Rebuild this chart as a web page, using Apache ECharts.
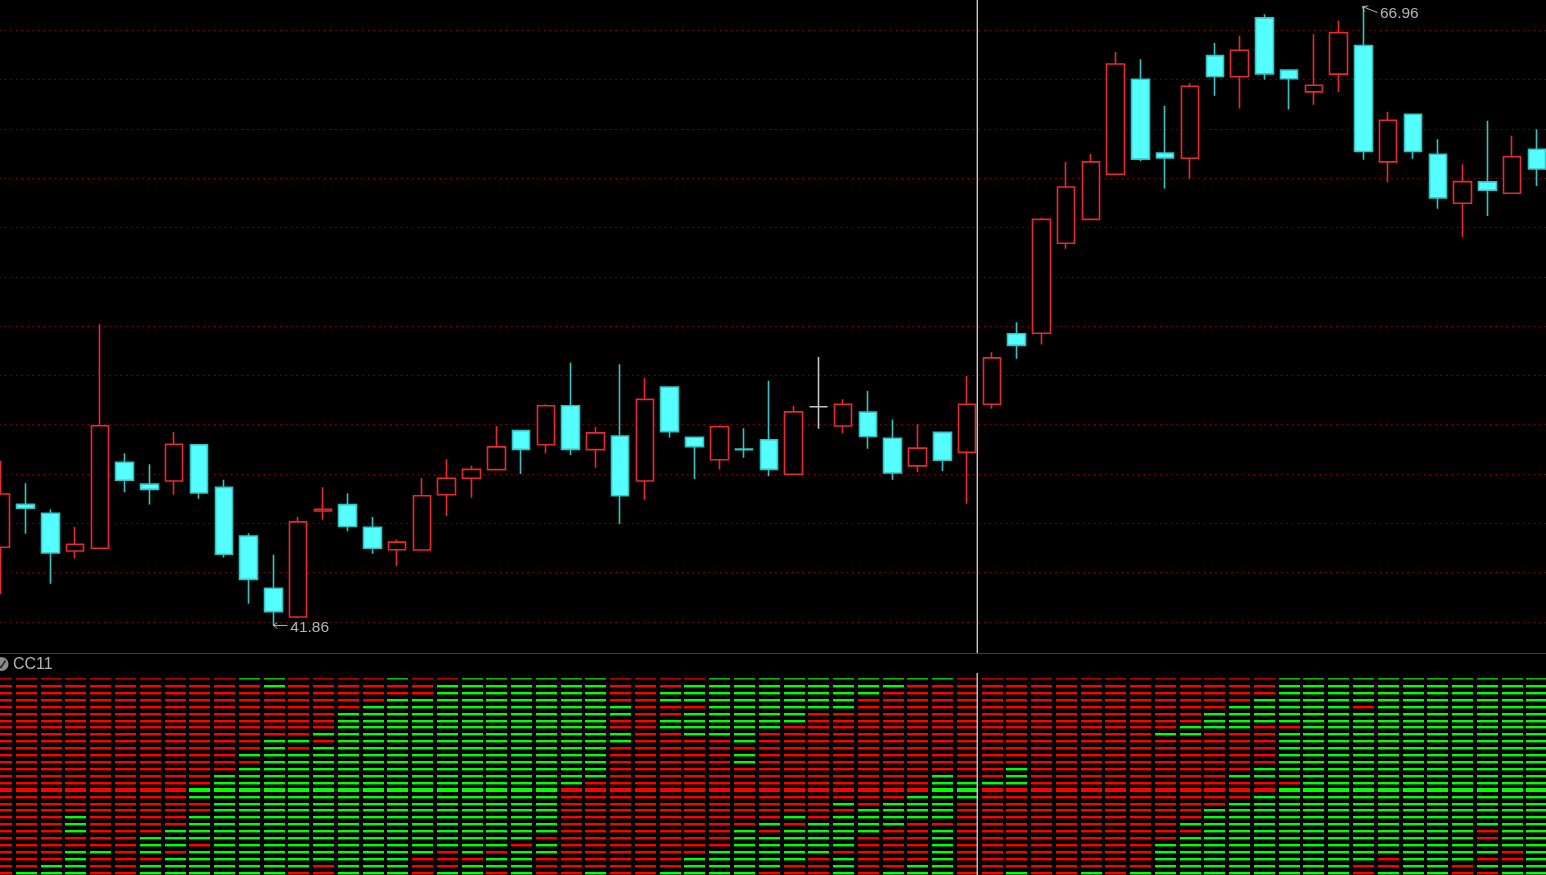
<!DOCTYPE html>
<html><head><meta charset="utf-8">
<style>html,body{margin:0;padding:0;background:#000;overflow:hidden;width:1546px;height:875px}#c{position:absolute;left:-50px;top:-50px;width:1646px;height:975px}</style>
<script src="https://cdn.jsdelivr.net/npm/echarts@6/dist/echarts.min.js"></script>
</head><body><div id="c"></div>
<script>
const opens =[45.03,46.77,46.41,44.88,44.99,48.48,47.59,47.72,49.19,47.46,45.49,43.37,42.20,46.50,46.76,45.84,44.93,44.92,47.16,47.83,48.18,49.76,49.19,50.77,48.99,49.54,47.72,51.53,49.49,48.58,49.01,49.39,47.99,50.73,49.95,50.51,49.45,48.33,49.69,48.88,50.83,53.69,53.71,57.36,58.33,60.16,64.01,61.02,60.81,64.97,64.11,66.50,64.38,63.50,64.22,65.38,60.66,62.59,60.97,58.98,59.85,59.39,61.17];
const closes=[47.19,46.61,44.80,45.15,49.96,47.75,47.38,49.21,47.23,44.75,43.73,42.42,46.06,46.57,45.87,44.99,45.24,47.12,47.83,48.19,49.10,49.00,50.77,49.00,49.67,47.12,51.03,49.72,49.11,49.92,48.99,48.19,50.52,50.73,50.83,49.52,48.04,49.05,48.56,50.83,52.71,53.22,58.33,59.64,60.66,64.63,60.77,60.82,63.73,64.12,65.19,64.23,64.03,63.77,65.90,61.08,62.35,61.08,59.20,59.86,59.51,60.87,60.37];
const lows  =[43.14,45.58,43.55,44.57,44.99,47.26,46.76,47.16,47.00,44.62,42.74,41.86,42.15,46.15,45.68,44.77,44.27,44.92,46.30,47.04,48.18,48.00,48.83,48.77,48.26,45.97,46.95,49.48,47.80,48.18,48.66,47.91,47.99,49.84,49.65,49.03,47.77,48.07,48.12,46.80,50.65,52.68,53.25,57.14,58.33,60.16,60.69,59.58,59.98,63.34,62.82,64.00,62.78,62.98,63.49,60.75,59.83,60.79,58.76,57.60,58.47,59.39,59.68];
const highs =[48.54,47.63,46.57,45.85,54.08,48.84,48.40,49.71,49.19,47.77,45.60,44.73,46.26,47.46,47.22,46.26,45.35,47.83,48.60,48.34,49.95,49.76,50.83,52.51,49.91,52.45,51.90,51.53,49.49,49.98,49.86,51.78,50.76,52.75,51.03,51.37,50.21,50.02,49.69,51.98,52.94,54.16,58.39,60.66,60.98,65.12,64.82,62.94,63.85,65.48,65.78,66.65,64.38,65.84,66.39,66.96,62.69,62.59,61.58,60.56,62.33,61.72,61.98];
const extremes=[{index:11,value:41.86,text:'41.86',kind:'low'},{index:55,value:66.96,text:'66.96',kind:'high'}];
const panelTitle='CC11';
const rowCount=29;
const thickRow=16;
const cursorIndex=39.415;
const lowerCursorIndex=39.40;
// rows (from the top) whose dash is green in each column; every other row is red
const greenRows=['','28','27,28','20-22,25-28','25','','23-25,27,28','22-24,26-28','16,17,20-23,25-28','14-28','0,11,13-28','0,1,9-28','9,11-27','8,10-26','5-28','4-28','0,3-28','3-25','1-24,28','0-25,27,28','0-24,26,27','0-23,25-28','0-22,24,25','0-15','0-14,28','4,5,8,9','','2,3,6,7,28','1-3,5-8,26-28','0-8,25-28','0-9,11,12,22-28','0-7,21,23-27','0-6,20,22-26','0-4,21-25','0-4,18,20-24,26-28','0-2,19-22','0,1,18-21,28','0,17-20,27,28','0,14-20,22-28','15-17','15','13-15,28','','','28','','28','8,24-28','7,8,21,23-28','5-7,19-28','4-7,14,18-28','3-6,13,14,17-28','0-6,8-14,16-28','0-28','0-28','0-3,5-26','0-25,28','0-28','0-28','0-26','0-21,24,25,27','0-24,27,28','0-28'];

const RED='#e62a2e',CYAN='#55ffff',CYANW='#35c4c4',GRID='#8a0000',TXT='#b4b4b4';
const PAD=50; // the canvas overhangs the window by this much so the first candle and the last row are cut off
const expand=s=>{const o=new Set();if(s)s.split(',').forEach(p=>{const [a,b]=p.split('-').map(Number);for(let k=a;k<=(b===undefined?a:b);k++)o.add(k)});return o};
const cells=[];
greenRows.forEach((s,c)=>{const g=expand(s);for(let r=0;r<rowCount;r++)cells.push([c,r,g.has(r)?1:0])});
const candles=opens.map((o,i)=>{
  const v=[o,closes[i],lows[i],highs[i]];
  return o===closes[i]?{value:v,itemStyle:{borderColorDoji:'#c4c4c4',borderColor:'#c4c4c4'}}:v;
});
const chart=echarts.init(document.getElementById('c'),null,{renderer:'canvas'});
chart.setOption({
  animation:false,backgroundColor:'#000',
  title:{text:panelTitle,left:PAD+13,top:PAD+656.5,padding:0,textStyle:{color:TXT,fontFamily:'Liberation Sans',fontSize:16,fontWeight:'normal'}},
  graphic:[
    {type:'line',shape:{x1:0,y1:PAD+653.5,x2:1646,y2:PAD+653.5},style:{stroke:'#a01818',lineWidth:1},z:5},
    {type:'circle',shape:{cx:PAD+1.5,cy:PAD+664,r:7},style:{fill:'#8c8c8c'},z:5},
    {type:'polyline',shape:{points:[[PAD-2,PAD+664],[PAD+1,PAD+667.5],[PAD+5.5,PAD+660.5]]},style:{stroke:'#222',fill:null,lineWidth:1.4},z:6}
  ],
  grid:[{left:PAD-11.59,width:1560.83,top:PAD-19.1,height:690.4},{left:PAD-10.68,width:1559.88,top:PAD+672.08,height:207.54}],
  xAxis:[
    {type:'category',gridIndex:0,data:opens.map((_,i)=>i),boundaryGap:true,axisLine:{show:false},axisTick:{show:false},axisLabel:{show:false},splitLine:{show:false}},
    {type:'value',gridIndex:0,min:-0.5,max:62.5,show:false,splitLine:{show:false}},
    {type:'value',gridIndex:1,min:-0.5,max:62.5,show:false,splitLine:{show:false}}
  ],
  yAxis:[
    {type:'value',gridIndex:0,min:40,max:68,interval:2,axisLine:{show:false},axisTick:{show:false},axisLabel:{show:false},
     splitLine:{show:true,showMinLine:false,showMaxLine:false,lineStyle:{color:GRID,width:1,type:[1.6,3.9]}}},
    {type:'value',gridIndex:1,min:-1,max:29,inverse:true,show:false,splitLine:{show:false}}
  ],
  series:[
    {type:'candlestick',xAxisIndex:0,yAxisIndex:0,barWidth:18,data:candles,z:3,
     itemStyle:{color:'#000',color0:CYAN,borderColor:RED,borderColor0:CYANW,borderColorDoji:'#c4c4c4',borderWidth:1.6}},
    {type:'custom',xAxisIndex:0,yAxisIndex:0,z:4,silent:true,clip:false,
     data:extremes.map(e=>[e.index,e.value]),
     renderItem(p,api){
       const e=extremes[p.dataIndex],c=api.coord([api.value(0),api.value(1)]);
       const x=c[0],y=c[1],st={stroke:TXT,lineWidth:1,fill:null};
       const font='15.5px "Liberation Sans"';
       if(e.kind==='low'){
         return {type:'group',children:[
           {type:'polyline',shape:{points:[[x+4,y-3],[x,y],[x+4,y+3]]},style:st},
           {type:'line',shape:{x1:x,y1:y,x2:x+14,y2:y},style:st},
           {type:'text',style:{text:e.text,x:x+17,y:y+2.5,fill:TXT,font,textVerticalAlign:'middle'}}]};
       }
       return {type:'group',children:[
         {type:'polyline',shape:{points:[[x+1,y+5],[x-1,y],[x+5,y-0.5]]},style:st},
         {type:'line',shape:{x1:x-1,y1:y,x2:x+14,y2:y+6},style:st},
         {type:'text',style:{text:e.text,x:x+16.5,y:y+7,fill:TXT,font,textVerticalAlign:'middle'}}]};
     }},
    {type:'custom',xAxisIndex:2,yAxisIndex:1,z:2,silent:true,clip:false,data:cells,
     renderItem(p,api){
       const c=api.coord([api.value(0),api.value(1)]),r=api.value(1);
       const h=r===thickRow?4:(r===0?1.6:2.4);
       return {type:'rect',shape:{x:Math.round(c[0]-10.5),y:Math.round(c[1])-(r===thickRow?2:1),width:21,height:h},
               style:{fill:api.value(2)?'#00ff00':'#ff0000',opacity:r===0?0.75:1}};
     }},
    {type:'line',xAxisIndex:1,yAxisIndex:0,z:6,symbol:'none',silent:true,data:[[cursorIndex,40.74],[cursorIndex,68]],lineStyle:{color:'#c8c8c8',width:1.4}},
    {type:'line',xAxisIndex:2,yAxisIndex:1,z:6,symbol:'none',silent:true,data:[[lowerCursorIndex,-0.85],[lowerCursorIndex,29]],lineStyle:{color:'#c8c8c8',width:1.4}}
  ]
});
</script></body></html>
